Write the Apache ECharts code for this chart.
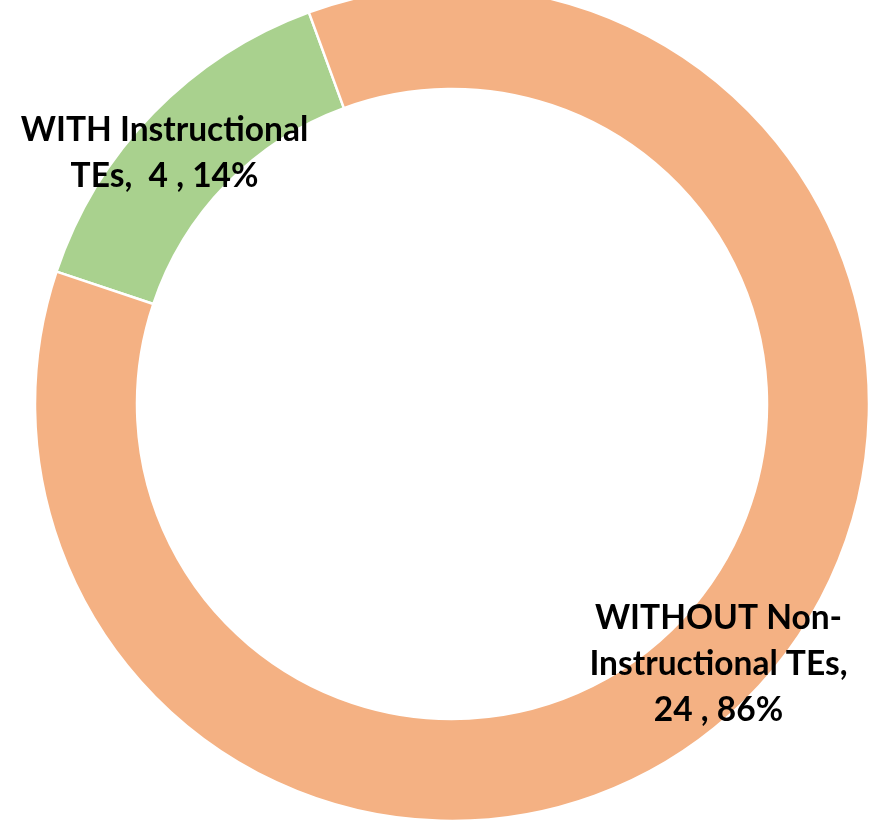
<!DOCTYPE html>
<html>
<head>
<meta charset="utf-8">
<script src="https://cdn.jsdelivr.net/npm/echarts@6/dist/echarts.min.js"></script>
<style>html,body{margin:0;padding:0;background:#fff;}#c{width:873px;height:823px;}</style>
</head>
<body>
<div id="c"></div>
<script>
const categories = ["WITH Instructional\nTEs", "WITHOUT Non-\nInstructional TEs,\n"];
const values = [4, 24];
const percents = ["14%", "86%"];
const colors = ["#A9D18E", "#F4B183"];
const labelOffsets = [[-23, 7], [2, 3]];

const chart = echarts.init(document.getElementById('c'), null, {renderer: 'canvas'});
chart.setOption({
  animation: false,
  series: [{
    type: 'pie',
    center: [452, 404],
    radius: [315, 417],
    startAngle: 161.5,
    clockwise: true,
    avoidLabelOverlap: false,
    itemStyle: {borderColor: '#ffffff', borderWidth: 2.5},
    label: {
      show: true,
      position: 'inside',
      fontFamily: 'Lato',
      fontWeight: 'bold',
      fontSize: 33.5,
      lineHeight: 46,
      color: '#000000',
      align: 'center'
    },
    labelLine: {show: false},
    emphasis: {disabled: true},
    data: categories.map((c, i) => ({
      name: c,
      value: values[i],
      itemStyle: {color: colors[i]},
      label: {
        offset: labelOffsets[i],
        formatter: () => i === 0
          ? c + ",  " + values[i] + " , " + percents[i]
          : c + values[i] + " , " + percents[i]
      }
    }))
  }]
});
</script>
</body>
</html>
